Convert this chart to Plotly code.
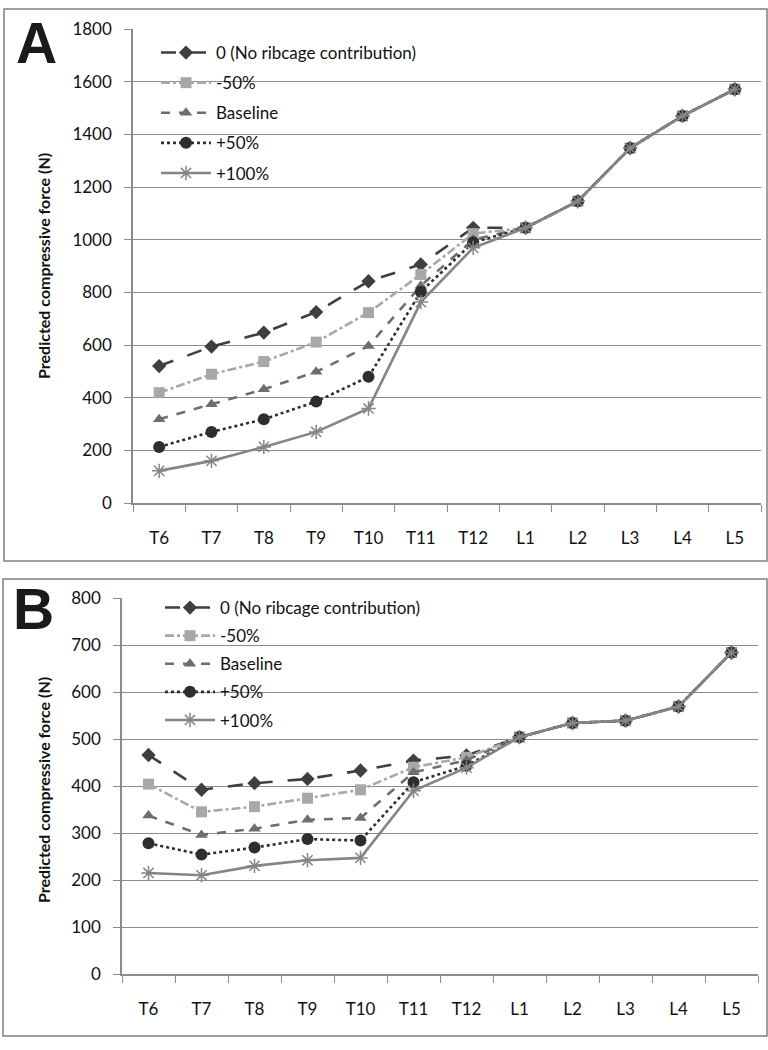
import plotly.graph_objects as go

levels = ["T6", "T7", "T8", "T9", "T10", "T11", "T12", "L1", "L2", "L3", "L4", "L5"]
series_names = ["0 (No ribcage contribution)", "-50%", "Baseline", "+50%", "+100%"]

# Panel A values (N)
a_zero = [520, 594, 647, 725, 842, 906, 1045, 1045, 1146, 1348, 1470, 1571]
a_m50 = [419, 489, 537, 611, 723, 868, 1023, 1045, 1146, 1348, 1470, 1571]
a_base = [318, 375, 432, 498, 596, 825, 1000, 1045, 1146, 1348, 1470, 1571]
a_p50 = [213, 270, 318, 385, 479, 802, 990, 1045, 1146, 1348, 1470, 1571]
a_p100 = [122, 160, 213, 270, 359, 763, 969, 1045, 1146, 1348, 1470, 1571]

# Panel B values (N)
b_zero = [466, 392, 406, 415, 433, 454, 465, 504, 534, 539, 569, 684]
b_m50 = [404, 345, 356, 374, 392, 440, 461, 504, 534, 539, 569, 684]
b_base = [337, 296, 309, 328, 332, 429, 455, 504, 534, 539, 569, 684]
b_p50 = [278, 254, 269, 287, 284, 408, 443, 504, 534, 539, 569, 684]
b_p100 = [215, 210, 230, 242, 247, 390, 439, 504, 534, 539, 569, 684]

styles = [
    dict(color="#3f3f3f", dash="longdash", symbol="diamond", msize=11, mcolor="#3f3f3f"),
    dict(color="#a8a8a8", dash="dashdot", symbol="square", msize=11, mcolor="#a8a8a8"),
    dict(color="#6e6e6e", dash="dash", symbol="triangle-up", msize=11, mcolor="#6e6e6e"),
    dict(color="#2e2e2e", dash="dot", symbol="circle", msize=12, mcolor="#2e2e2e"),
    dict(color="#858585", dash="solid", symbol="asterisk-open", msize=12, mcolor="#858585"),
]

W, H = 768, 1050
fig = go.Figure()

panels = [
    ("A", [a_zero, a_m50, a_base, a_p50, a_p100], "x", "y", "legend"),
    ("B", [b_zero, b_m50, b_base, b_p50, b_p100], "x2", "y2", "legend2"),
]
for pname, data, xa, ya, leg in panels:
    for i, (name, vals) in enumerate(zip(series_names, data)):
        s = styles[i]
        marker = dict(symbol=s["symbol"], size=s["msize"], color=s["mcolor"])
        if s["symbol"] == "asterisk-open":
            marker["line"] = dict(color=s["mcolor"], width=1.5)
        fig.add_trace(go.Scatter(
            x=levels, y=vals, name=name, mode="lines+markers",
            line=dict(color=s["color"], dash=s["dash"], width=2.6),
            marker=marker, xaxis=xa, yaxis=ya, legend=leg,
            legendgroup=pname + str(i),
        ))

FONT = "Lato, Liberation Sans, sans-serif"
axis_common = dict(
    showline=True, linecolor="#8c8c8c", linewidth=1.5,
    ticks="outside", tickcolor="#8c8c8c", ticklen=7,
    tickfont=dict(family=FONT, size=17, color="#111"),
    zeroline=False, automargin=False,
)
xcat = dict(type="category", categoryorder="array", categoryarray=levels,
            range=[-0.5, 11.5], tickson="boundaries", showgrid=False,
            ticklabelstandoff=19)
ygrid = dict(showgrid=True, gridcolor="#8c8c8c", gridwidth=1.3, ticklabelstandoff=9)

fig.update_layout(
    width=W, height=H,
    margin=dict(l=0, r=0, t=0, b=0, pad=0, autoexpand=False),
    plot_bgcolor="white", paper_bgcolor="white",
    showlegend=True,
    xaxis=dict(domain=[133 / W, 761 / W], anchor="y", **xcat, **axis_common),
    yaxis=dict(domain=[1 - 503 / H, 1 - 29 / H], anchor="x", range=[0, 1800],
               dtick=200, **ygrid, **axis_common),
    xaxis2=dict(domain=[122 / W, 758 / W], anchor="y2", **xcat, **axis_common),
    yaxis2=dict(domain=[1 - 974 / H, 1 - 598 / H], anchor="x2", range=[0, 800],
                dtick=100, **ygrid, **axis_common),
    legend=dict(x=156 / W, y=1 - 35 / H, xanchor="left", yanchor="top",
                bgcolor="rgba(0,0,0,0)", tracegroupgap=5, itemwidth=50,
                font=dict(family=FONT, size=17, color="#111")),
    legend2=dict(x=160 / W, y=1 - 590 / H, xanchor="left", yanchor="top",
                 bgcolor="rgba(0,0,0,0)", tracegroupgap=3, itemwidth=50,
                 font=dict(family=FONT, size=17, color="#111")),
)

# panel boxes
fig.add_shape(type="rect", xref="paper", yref="paper",
              x0=4 / W, x1=767 / W, y0=1 - 561 / H, y1=1 - 9 / H,
              line=dict(color="#808080", width=1.5))
fig.add_shape(type="rect", xref="paper", yref="paper",
              x0=3 / W, x1=767 / W, y0=1 - 1036 / H, y1=1 - 579 / H,
              line=dict(color="#808080", width=1.5))

# panel letters
letter_font = dict(family="Liberation Sans, Arial, sans-serif", size=57, color="#1a1a1a")
fig.add_annotation(text="<b>A</b>", x=36 / W, y=1 - 43 / H, xref="paper", yref="paper",
                   xanchor="center", yanchor="middle", showarrow=False, font=letter_font)
fig.add_annotation(text="<b>B</b>", x=33 / W, y=1 - 609 / H, xref="paper", yref="paper",
                   xanchor="center", yanchor="middle", showarrow=False, font=letter_font)

# y-axis titles
title_font = dict(family=FONT, size=16, color="#111")
for yc in (266, 790):
    fig.add_annotation(text="<b>Predicted compressive force (N)</b>", x=43 / W, y=1 - yc / H,
                       xref="paper", yref="paper", xanchor="center", yanchor="middle",
                       showarrow=False, textangle=-90, font=title_font)

fig.write_html("out.html", config={"displayModeBar": False},
               post_script="document.body.style.margin='0';")
